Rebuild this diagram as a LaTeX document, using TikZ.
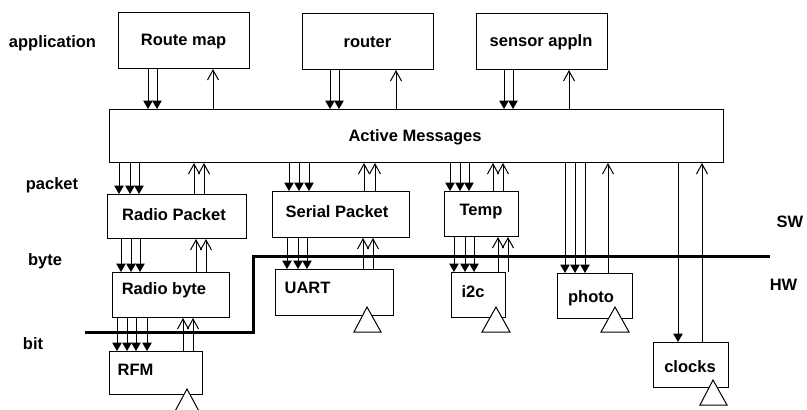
\documentclass[tikz,border=0pt]{standalone}
\usepackage{fontspec}
\setmainfont{Liberation Sans}
\usetikzlibrary{arrows.meta}
\begin{document}
\begin{tikzpicture}[x=1pt,y=-1pt,
  box/.style={draw,line width=1pt,inner sep=0pt,anchor=north west},
  lbl/.style={font=\fontsize{16.5}{19}\selectfont\bfseries,inner sep=0pt},
  dn/.style={line width=1pt,-{Triangle[width=9.5pt,length=8.5pt]}},
  upa/.style={line width=1pt,-{Straight Barb[width=11pt,length=10pt]}},
  plain/.style={line width=1pt},
  tri/.style={draw,line width=1pt,fill=white},
  wall/.style={line width=3pt}]
\useasboundingbox (0,0) rectangle (807,410);

% boxes
\node[box,minimum width=131pt,minimum height=56pt] (rm) at (118,12) {};
\node[box,minimum width=131pt,minimum height=56pt] (rt) at (302,13) {};
\node[box,minimum width=131pt,minimum height=56pt] (sa) at (476,13) {};
\node[box,minimum width=614pt,minimum height=53pt] (am) at (109,109) {};
\node[box,minimum width=139pt,minimum height=44pt] (rp) at (107,194) {};
\node[box,minimum width=137pt,minimum height=46pt] (sp) at (272,191) {};
\node[box,minimum width=74pt,minimum height=45pt] (tp) at (444,191) {};
\node[box,minimum width=117pt,minimum height=45pt] (rb) at (112,272) {};
\node[box,minimum width=118pt,minimum height=46pt] (ua) at (275,269) {};
\node[box,minimum width=54pt,minimum height=45pt] (ic) at (451,272) {};
\node[box,minimum width=75pt,minimum height=45pt] (ph) at (557,273) {};
\node[box,minimum width=93pt,minimum height=43pt] (rf) at (109,351) {};
\node[box,minimum width=75pt,minimum height=45pt] (cl) at (653,342) {};

% box texts
\node[lbl] (trm) at (183.5,42) {Route map};
\node[lbl] (trt) at (367.5,42) {router};
\node[lbl] (tsa) at (541,42) {sensor appln};
\node[lbl] (tam) at (415,137) {Active Messages};
\node[lbl] (trp) at (174,215) {Radio Packet};
\node[lbl] (tsp) at (337,212) {Serial Packet};
\node[lbl] (ttp) at (481,212) {Temp};
\node[lbl] (trb) at (164,290) {Radio byte};
\node[lbl] (tua) at (307.5,288) {UART};
\node[lbl] (tic) at (473,292) {i2c};
\node[lbl] (tph) at (591,298) {photo};
\node[lbl] (trf) at (135.5,370) {RFM};
\node[lbl] (tcl) at (690,367) {clocks};

% layer labels
\node[lbl] (lapp) at (52.5,43) {application};
\node[lbl] (lpk) at (52,185) {packet};
\node[lbl] (lby) at (45,261) {byte};
\node[lbl] (lbi) at (33,344) {bit};
\node[lbl] (lsw) at (790,222) {SW};
\node[lbl] (lhw) at (783.5,285) {HW};

% SW/HW boundary
\draw[wall] (85,332) -- (253,332) -- (253,256) -- (770,256);

% application -> AM
\foreach \x in {148,157} \draw[dn] (\x,0 |- rm.south) -- (\x,0 |- am.north);
\draw[upa] (213,0 |- am.north) -- (213,0 |- rm.south);
\foreach \x in {330,339} \draw[dn] (\x,0 |- rt.south) -- (\x,0 |- am.north);
\draw[upa] (396,0 |- am.north) -- (396,0 |- rt.south);
\foreach \x in {504,513} \draw[dn] (\x,0 |- sa.south) -- (\x,0 |- am.north);
\draw[upa] (569,0 |- am.north) -- (569,0 |- sa.south);

% AM -> packet
\foreach \x in {119,130,139} \draw[dn] (\x,0 |- am.south) -- (\x,0 |- rp.north);
\foreach \x in {194,204} \draw[upa] (\x,0 |- rp.north) -- (\x,0 |- am.south);
\foreach \x in {289,299,309} \draw[dn] (\x,0 |- am.south) -- (\x,0 |- sp.north);
\foreach \x in {364,375} \draw[upa] (\x,0 |- sp.north) -- (\x,0 |- am.south);
\foreach \x in {450,460,469} \draw[dn] (\x,0 |- am.south) -- (\x,0 |- tp.north);
\foreach \x in {493,503} \draw[upa] (\x,0 |- tp.north) -- (\x,0 |- am.south);

% AM -> photo, clocks
\foreach \x in {565,575,585} \draw[dn] (\x,0 |- am.south) -- (\x,0 |- ph.north);
\draw[upa] (608,0 |- ph.north) -- (608,0 |- am.south);
\draw[dn] (678,0 |- am.south) -- (678,0 |- cl.north);
\draw[upa] (702,0 |- cl.north) -- (702,0 |- am.south);

% packet -> byte
\foreach \x in {121,131,140} \draw[dn] (\x,0 |- rp.south) -- (\x,0 |- rb.north);
\foreach \x in {196,206} \draw[upa] (\x,0 |- rb.north) -- (\x,0 |- rp.south);
\foreach \x in {287,298,307} \draw[dn] (\x,0 |- sp.south) -- (\x,0 |- ua.north);
\foreach \x in {363,373} \draw[upa] (\x,0 |- ua.north) -- (\x,0 |- sp.south);
\foreach \x in {454,465,474} \draw[dn] (\x,0 |- tp.south) -- (\x,0 |- ic.north);
\foreach \x in {498,508} \draw[upa] (\x,0 |- ic.north) -- (\x,0 |- tp.south);

% byte -> bit
\foreach \x in {117,127,136,147} \draw[dn] (\x,0 |- rb.south) -- (\x,0 |- rf.north);
\foreach \x in {183,193} \draw[upa] (\x,0 |- rf.north) -- (\x,0 |- rb.south);

% triangles
\draw[tri] (187,389) -- (173.5,414) -- (200.5,414) -- cycle;
\draw[tri] (367,307) -- (354,332) -- (381,332) -- cycle;
\draw[tri] (496,307) -- (482,332) -- (510,332) -- cycle;
\draw[tri] (615,307) -- (601,332) -- (629,332) -- cycle;
\draw[tri] (713,380) -- (700,405) -- (727,405) -- cycle;
\end{tikzpicture}
\end{document}
